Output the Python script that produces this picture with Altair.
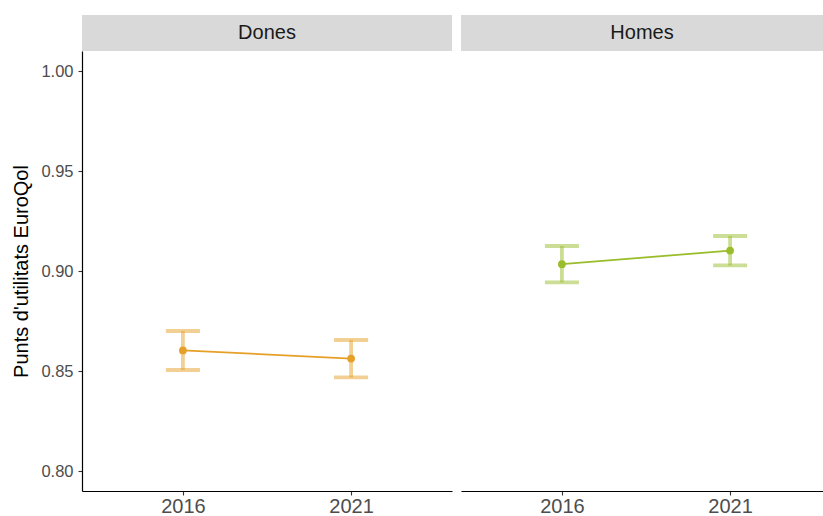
import altair as alt
import pandas as pd

panels = ["Dones", "Homes"]
years = [2016, 2021]
dones_mean = [0.8603, 0.8562]
dones_low = [0.8505, 0.8468]
dones_high = [0.8700, 0.8655]
homes_mean = [0.9034, 0.9102]
homes_low = [0.8943, 0.9028]
homes_high = [0.9125, 0.9175]
colors = ["#E69F27", "#9ABD2B"]
y_ticks = [0.80, 0.85, 0.90, 0.95, 1.00]

FONT = "Liberation Sans"
H = 440
W_LEFT = 370
W_RIGHT = 362
PX_PER_YEAR = W_LEFT / 11.0
X_MIN = 2013
X_MAX_LEFT = 2024
X_MAX_RIGHT = X_MIN + W_RIGHT / PX_PER_YEAR


def panel(name, mean, low, high, color, width, x_max, show_y):
    df = pd.DataFrame({"year": years, "mean": mean, "low": low, "high": high})
    x = alt.X(
        "year:Q",
        scale=alt.Scale(domain=[X_MIN, x_max], nice=False, zero=False),
        axis=alt.Axis(values=years, format="d", title=None, labelFontSize=20,
                      labelPadding=1, labelFlush=False),
    )
    yscale = alt.Scale(domain=[0.79, 1.01], nice=False, zero=False)
    if show_y:
        yaxis = alt.Axis(values=y_ticks, format=".2f", title="Punts d'utilitats EuroQol",
                         labelFontSize=16.5, labelPadding=5, titleFontSize=20,
                         titleFontWeight="normal", titleColor="#000000", titlePadding=9)
    else:
        yaxis = None
    base = alt.Chart(df)
    err = base.mark_errorbar(color=color, opacity=0.5, thickness=3.8, size=34, ticks=True).encode(
        x=x, y=alt.Y("low:Q", scale=yscale, axis=yaxis), y2="high:Q"
    )
    line = base.mark_line(color=color, strokeWidth=1.8).encode(
        x=x, y=alt.Y("mean:Q", scale=yscale, axis=yaxis)
    )
    pts = base.mark_point(filled=True, color=color, size=60, opacity=1).encode(
        x=x, y=alt.Y("mean:Q", scale=yscale, axis=yaxis)
    )
    header_df = pd.DataFrame({"panel": [name]})
    hdr = alt.Chart(header_df).mark_rect(color="#D9D9D9").encode(
        x=alt.value(0), x2=alt.value(width), y=alt.value(-36), y2=alt.value(0)
    )
    txt = alt.Chart(header_df).mark_text(fontSize=20, font=FONT, color="#1A1A1A",
                                         baseline="middle", align="center").encode(
        x=alt.value(width / 2), y=alt.value(-18), text="panel:N"
    )
    return alt.layer(hdr, txt, err, line, pts).properties(width=width, height=H)


left = panel(panels[0], dones_mean, dones_low, dones_high, colors[0], W_LEFT, X_MAX_LEFT, True)
right = panel(panels[1], homes_mean, homes_low, homes_high, colors[1], W_RIGHT, X_MAX_RIGHT, False)

chart = (
    alt.hconcat(left, right, spacing=9)
    .properties(padding={"left": 11, "top": 15, "right": 0, "bottom": 0})
    .configure_view(stroke=None)
    .configure_axis(
        grid=False,
        domainColor="#000000",
        domainWidth=1.2,
        tickColor="#333333",
        tickSize=4,
        tickWidth=1.1,
        labelColor="#4D4D4D",
        labelFont=FONT,
        titleFont=FONT,
    )
)

chart.save("out.html", embed_options={"renderer": "svg", "actions": False})
